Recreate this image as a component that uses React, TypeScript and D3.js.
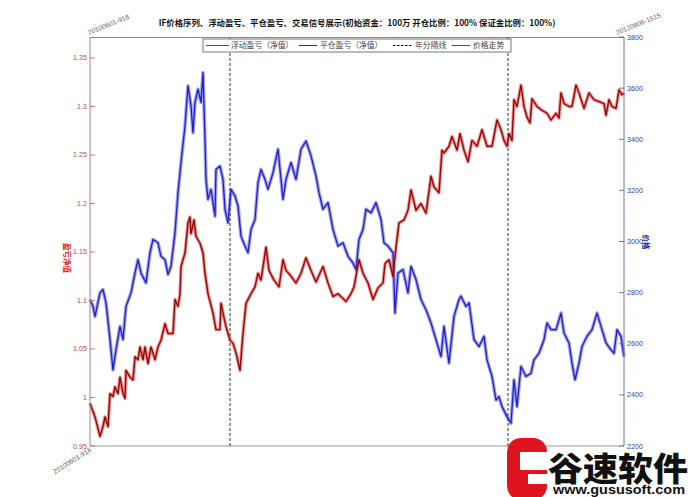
import React from 'react';
import * as d3 from 'd3';

// ---- data (t = trading-day index from 2010-06-01 to 2012-08-06) ----
const PRICE_T = [0,3,5,10,13,16,20,23,26,30,33,36,41,45,48,51,56,60,63,68,71,75,78,81,85,88,91,95,98,101,103,105,108,111,113,115,116,118,121,125,126,130,133,135,138,141,145,148,151,155,158,161,165,168,171,175,178,183,188,193,196,201,206,211,216,221,226,229,233,238,243,248,253,258,263,266,269,273,276,281,286,291,294,298,303,305,308,313,318,321,326,331,336,341,346,351,354,359,364,369,371,376,379,384,389,394,397,402,406,409,412,417,421,424,427,431,436,441,444,449,454,457,461,466,471,474,479,482,485,489,492,497,502,507,511,516,521,524,527,531,534];
const PRICE = [2773,2746,2707,2799,2812,2760,2616,2498,2576,2668,2616,2746,2799,2877,2929,2877,2838,2956,3008,2995,2942,2929,2871,2903,3034,3191,3309,3452,3609,3531,3426,3544,3596,3544,3661,3400,3243,3165,3204,3099,3282,3295,3243,3126,3073,3204,3178,3139,3021,2982,2956,3047,3086,3230,3282,3243,3204,3269,3361,3165,3243,3309,3243,3361,3393,3335,3256,3191,3126,3152,3047,2982,2995,2942,2916,2890,3008,3047,3126,3112,3152,3086,2995,2982,2956,2720,2877,2890,2799,2903,2851,2773,2733,2681,2616,2550,2668,2524,2707,2773,2786,2746,2760,2616,2589,2629,2537,2472,2380,2393,2354,2315,2289,2459,2354,2511,2472,2485,2537,2563,2616,2681,2655,2655,2720,2642,2603,2524,2459,2524,2589,2629,2655,2720,2668,2603,2576,2563,2655,2629,2550];

const NAV_T = [0,5,10,13,15,18,20,23,25,28,30,33,35,36,40,43,45,48,50,53,55,58,61,65,68,71,75,78,83,85,88,90,91,95,98,100,101,104,106,110,113,115,118,123,126,130,131,133,136,140,143,146,150,153,156,161,165,168,171,176,179,184,189,193,196,201,206,211,216,221,226,233,238,243,248,256,261,264,269,273,278,283,288,293,295,299,303,306,309,314,318,321,326,331,336,341,344,349,352,354,359,362,367,370,374,378,382,387,392,397,402,407,411,414,417,419,422,424,427,431,434,437,440,442,447,452,457,461,466,469,471,474,479,482,486,489,494,499,504,509,514,516,519,522,526,529,532,534];
const NAV = [0.994,0.980,0.960,0.970,0.980,0.970,1.004,1.001,1.011,1.004,1.021,1.004,0.999,1.028,1.021,1.018,1.042,1.039,1.052,1.039,1.052,1.035,1.052,1.039,1.052,1.059,1.076,1.066,1.066,1.101,1.094,1.107,1.135,1.149,1.180,1.186,1.169,1.183,1.166,1.159,1.149,1.128,1.107,1.087,1.070,1.070,1.097,1.087,1.073,1.059,1.056,1.046,1.028,1.066,1.097,1.107,1.114,1.128,1.121,1.155,1.131,1.121,1.114,1.142,1.131,1.125,1.118,1.128,1.144,1.131,1.119,1.135,1.118,1.104,1.107,1.099,1.107,1.114,1.142,1.128,1.118,1.101,1.113,1.118,1.138,1.142,1.125,1.155,1.180,1.183,1.193,1.214,1.193,1.200,1.190,1.228,1.217,1.211,1.255,1.252,1.259,1.269,1.255,1.272,1.255,1.243,1.265,1.259,1.276,1.259,1.259,1.286,1.276,1.265,1.259,1.272,1.265,1.307,1.300,1.322,1.300,1.289,1.283,1.308,1.300,1.296,1.293,1.286,1.293,1.288,1.314,1.303,1.300,1.300,1.322,1.314,1.298,1.314,1.307,1.305,1.303,1.291,1.307,1.300,1.298,1.317,1.312,1.314];

const YEAR_SPLIT_T = [140, 418];
const T_DOMAIN = [0, 534];
const NAV_DOMAIN = [0.95, 1.3716];
const PRICE_DOMAIN = [2200, 3800];
const NAV_TICKS = [0.95, 1, 1.05, 1.1, 1.15, 1.2, 1.25, 1.3, 1.35];
const PRICE_TICKS = [2200, 2400, 2600, 2800, 3000, 3200, 3400, 3600, 3800];

const TITLE = 'IF价格序列、浮动盈亏、平仓盈亏、交易信号展示(初始资金：100万 开仓比例：100% 保证金比例：100%)';
const LEGEND_LABELS = ['浮动盈亏（净值）', '平仓盈亏（净值）', '年分隔线', '价格走势'];
const START_LABEL_TOP = '20100601-918';
const END_LABEL_TOP = '20120806-1515';
const START_LABEL_BOTTOM = '20100601-916';
const LEFT_LABEL = '盈亏净值';
const RIGHT_LABEL = '价格';

const CJK = '"Noto Sans CJK SC", "Noto Sans", sans-serif';
const SANS = '"Liberation Sans", Arial, sans-serif';

export default function App() {
  const L = 90, R = 624, T = 37, B = 446;
  const x = d3.scaleLinear().domain(T_DOMAIN).range([L, R]);
  const yL = d3.scaleLinear().domain(NAV_DOMAIN).range([B, T]);
  const yR = d3.scaleLinear().domain(PRICE_DOMAIN).range([B, T]);

  const priceData: [number, number][] = PRICE_T.map((t, i) => [t, PRICE[i]]);
  const navData: [number, number][] = NAV_T.map((t, i) => [t, NAV[i]]);

  const priceLine = d3.line<[number, number]>().x(d => x(d[0])).y(d => yR(d[1]));
  const navLine = d3.line<[number, number]>().x(d => x(d[0])).y(d => yL(d[1]));

  const fmtNav = (v: number) => String(+v.toFixed(2));

  const blue = '#1f1fcf';
  const red = '#d41010';
  const leftAxisColor = '#b97a7a';
  const rightAxisColor = '#7474a8';

  const legY = 45.5;
  const legItems = [
    { x1: 206, x2: 229, tx: 231, color: red, dash: undefined as string | undefined },
    { x1: 299, x2: 317, tx: 320, color: '#333333', dash: undefined },
    { x1: 393, x2: 412, tx: 415, color: '#000000', dash: '2.5,1.5' },
    { x1: 452, x2: 470, tx: 473, color: '#4040a0', dash: undefined },
  ];

  return (
    <svg width={690} height={497} style={{ position: 'absolute', left: 0, top: 0, background: '#fff' }}>
      <rect x={0} y={0} width={690} height={497} fill="#ffffff" />

      {/* title */}
      <text x={357} y={26} textAnchor="middle" fontFamily={CJK} fontWeight="bold" fontSize={8.4} fill="#111">{TITLE}</text>

      {/* box top / bottom */}
      <line x1={L} x2={R} y1={T + 0.5} y2={T + 0.5} stroke="#8a8a8a" strokeWidth={1} />
      <line x1={L} x2={R} y1={B} y2={B} stroke="#9a9a9a" strokeWidth={1.2} />

      {/* year separators */}
      {YEAR_SPLIT_T.map(t => (
        <line key={t} x1={x(t)} x2={x(t)} y1={T + 1} y2={B} stroke="#333" strokeWidth={1} strokeDasharray="3,2" />
      ))}

      {/* price series */}
      <path d={priceLine(priceData) || ''} fill="none" stroke={blue} strokeWidth={3.6} strokeOpacity={0.4} strokeLinejoin="round" />
      <path d={priceLine(priceData) || ''} fill="none" stroke={blue} strokeWidth={1.3} strokeLinejoin="round" />

      {/* floating P&L */}
      <path d={navLine(navData) || ''} fill="none" stroke={red} strokeWidth={3.4} strokeOpacity={0.45} strokeLinejoin="round" />
      <path d={navLine(navData) || ''} fill="none" stroke={red} strokeWidth={1.4} strokeLinejoin="round" />
      {/* closed P&L */}
      <path d={navLine(navData) || ''} fill="none" stroke="#3a0808" strokeWidth={0.7} strokeOpacity={0.7} strokeLinejoin="round" />

      {/* left axis */}
      <line x1={L} x2={L} y1={T} y2={B} stroke={leftAxisColor} strokeWidth={1} />
      {NAV_TICKS.map(v => (
        <g key={v}>
          <line x1={L} x2={L + 5} y1={yL(v)} y2={yL(v)} stroke={leftAxisColor} />
          <text x={L - 3} y={yL(v) + 2.5} textAnchor="end" fontFamily={SANS} fontSize={7.2} fill="#c04848">{fmtNav(v)}</text>
        </g>
      ))}
      <text transform={`translate(64,258) rotate(90)`} textAnchor="middle" fontFamily={CJK} fontWeight="bold" fontSize={7.5} fill="#e02020">{LEFT_LABEL}</text>

      {/* right axis */}
      <line x1={R} x2={R} y1={T} y2={B} stroke={rightAxisColor} strokeWidth={1} />
      {PRICE_TICKS.map(v => (
        <g key={v}>
          <line x1={R - 5} x2={R} y1={yR(v)} y2={yR(v)} stroke={rightAxisColor} />
          <text x={R + 3} y={yR(v) + 2.5} textAnchor="start" fontFamily={SANS} fontSize={7.2} fill="#3a3aa0">{v}</text>
        </g>
      ))}
      <text transform={`translate(643,242) rotate(90)`} textAnchor="middle" fontFamily={CJK} fontWeight="bold" fontSize={7.5} fill="#2020b0">{RIGHT_LABEL}</text>

      {/* date labels */}
      <text transform={`translate(${L - 1},${T - 2}) rotate(-22)`} fontFamily={SANS} fontSize={6.8} fill="#666">{START_LABEL_TOP}</text>
      <text transform={`translate(${R - 7},${T - 2}) rotate(-22)`} fontFamily={SANS} fontSize={6.8} fill="#666">{END_LABEL_TOP}</text>
      <text transform={`translate(${L + 2},${B + 5}) rotate(-32)`} textAnchor="end" fontFamily={SANS} fontSize={6.8} fill="#666">{START_LABEL_BOTTOM}</text>

      {/* legend */}
      <rect x={203} y={39} width={308} height={13} fill="#fff" stroke="#555" strokeWidth={0.8} />
      {legItems.map((it, i) => (
        <g key={i}>
          <line x1={it.x1} x2={it.x2} y1={legY} y2={legY} stroke={it.color} strokeWidth={1} strokeDasharray={it.dash} />
          <text x={it.tx} y={legY + 2.8} fontFamily={CJK} fontSize={7.8} fill="#444">{LEGEND_LABELS[i]}</text>
        </g>
      ))}

      {/* watermark */}
      <g>
        <rect x={507} y={438} width={40} height={62} rx={14} fill="#e0141e" />
        <rect x={520} y={452} width={30} height={18} fill="#fff" />
        <rect x={528} y={474} width={19} height={10} fill="#fff" />
        <text x={548} y={481} fontFamily={CJK} fontWeight={900} fontSize={33} fill="#111" textLength={140} lengthAdjust="spacingAndGlyphs">谷速软件</text>
        <text x={553} y={494} fontFamily={SANS} fontWeight="bold" fontSize={12} fill="#111" textLength={132} lengthAdjust="spacingAndGlyphs">www.gususoft.com</text>
      </g>
    </svg>
  );
}
